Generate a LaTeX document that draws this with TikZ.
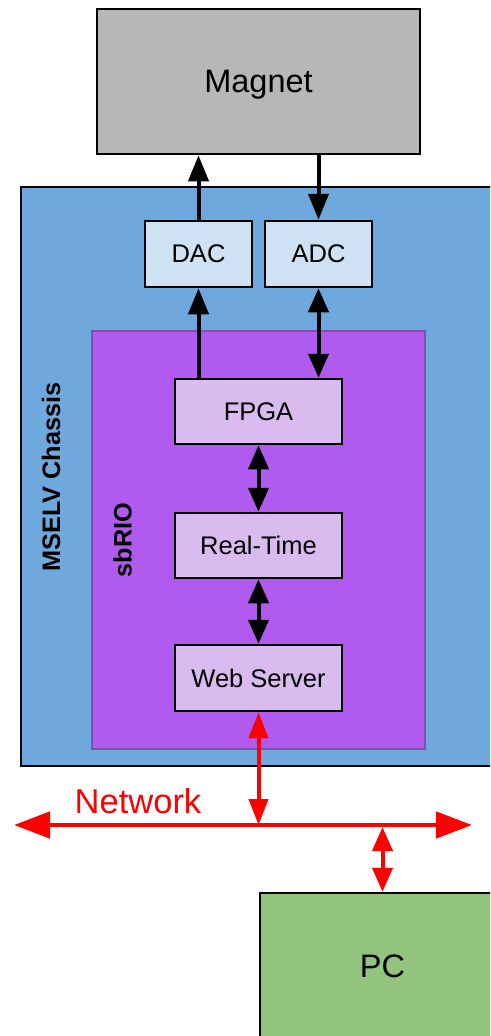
\documentclass[tikz,border=0pt]{standalone}
\usepackage{fontspec}
\setmainfont{Liberation Sans}
\usetikzlibrary{arrows.meta}
\definecolor{magnetgray}{RGB}{183,183,183}
\definecolor{chassisblue}{RGB}{111,168,220}
\definecolor{convblue}{RGB}{207,226,243}
\definecolor{sbriopurple}{RGB}{177,90,239}
\definecolor{sbrioedge}{RGB}{128,80,170}
\definecolor{modpurple}{RGB}{217,187,239}
\definecolor{pcgreen}{RGB}{147,196,125}
\definecolor{netred}{RGB}{255,0,0}
\tikzset{
  box/.style={draw=black, line width=2.5pt, rectangle, inner sep=0pt, align=center,
    font=\fontsize{25.5}{30}\selectfont},
  bigbox/.style={box, font=\fontsize{32.5}{38}\selectfont},
  blk/.style={line width=4pt, draw=black},
  blkhead/.style={-{Triangle[length=26pt,width=20pt]}},
  blkboth/.style={{Triangle[length=24pt,width=20pt]}-{Triangle[length=24pt,width=20pt]}},
  redarrow/.style={line width=4pt, draw=netred, {Triangle[length=26pt,width=19pt]}-{Triangle[length=26pt,width=19pt]}},
  vlabel/.style={rotate=90, inner sep=0pt, font=\fontsize{25.3}{30}\selectfont\bfseries}
}
\begin{document}
\begin{tikzpicture}[x=1pt,y=1pt]
\clip (0,0) rectangle (490,-1036);
\fill[white] (0,0) rectangle (490,-1036);
% Magnet
\node[bigbox, fill=magnetgray, minimum width=323pt, minimum height=145pt, text depth=0pt] (magnet) at (258.5,-81.5) {Magnet};
% Chassis
\node[box, fill=chassisblue, minimum width=509pt, minimum height=579pt] (chassis) at (275.5,-476.5) {};
\node[vlabel] (chassislbl) at (51,-477) {MSELV Chassis};
% sbRIO
\node[rectangle, draw=sbrioedge, line width=1.5pt, fill=sbriopurple, minimum width=333pt, minimum height=418pt, inner sep=0pt] (sbrio) at (258.5,-540) {};
\node[vlabel] (sbriolbl) at (122.5,-540) {sbRIO};
% converters
\node[box, fill=convblue, minimum width=107pt, minimum height=66pt] (dac) at (198.5,-254) {DAC};
\node[box, fill=convblue, minimum width=107pt, minimum height=66pt] (adc) at (318.5,-254) {ADC};
% modules
\node[box, fill=modpurple, minimum width=167pt, minimum height=65pt] (fpga) at (258.5,-411.5) {FPGA};
\node[box, fill=modpurple, minimum width=167pt, minimum height=65pt] (rt) at (258.5,-545.5) {Real-Time};
\node[box, fill=modpurple, minimum width=167pt, minimum height=66pt] (web) at (258.5,-678) {Web Server};
% PC
\node[bigbox, fill=pcgreen, minimum width=245pt, minimum height=146pt] (pc) at (382.5,-966) {PC};
% black connectors
\draw[blk, blkhead] (dac.north) -- (dac.north |- magnet.south);
\draw[blk, blkhead] (magnet.south -| adc.north) -- (adc.north);
\draw[blk, blkhead] (fpga.north -| dac.south) -- (dac.south);
\draw[blk, blkboth] (adc.south) -- (adc.south |- fpga.north);
\draw[blk, blkboth] (fpga.south) -- (rt.north);
\draw[blk, blkboth] (rt.south) -- (web.south |- web.north);
% network
\coordinate (netL) at (14,-825);
\coordinate (netR) at (472,-825);
\coordinate (pcjoin) at (382.5,-827);
\draw[line width=4.8pt, draw=netred, {Triangle[length=36pt,width=26pt]}-{Triangle[length=36pt,width=26pt]}] (netL) -- (netR);
\draw[redarrow] (web.south) -- (web.south |- netL);
\draw[line width=4pt, draw=netred, {Triangle[length=24pt,width=20pt]}-{Triangle[length=24pt,width=20pt]}] (pcjoin) -- (pcjoin |- pc.north);
\node[text=netred, anchor=base, inner sep=0pt, font=\fontsize{34.5}{40}\selectfont] (netlbl) at (138,-813) {Network};
\end{tikzpicture}
\end{document}
